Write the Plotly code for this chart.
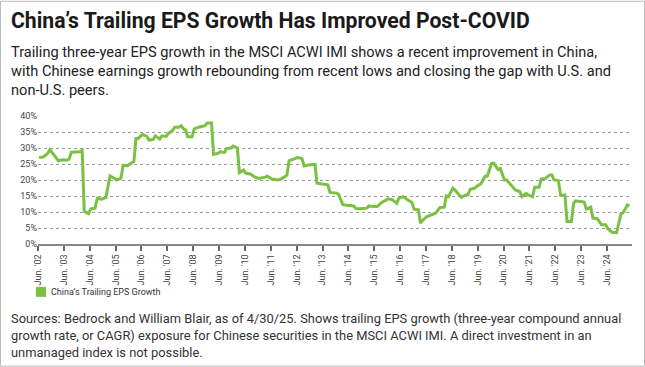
import plotly.graph_objects as go

# ---- data ----
dates = [
    "2002-06", "2002-08", "2002-10", "2002-11", "2003-01", "2003-03", "2003-05", "2003-07",
    "2003-08", "2003-09", "2004-01", "2004-02", "2004-03", "2004-05", "2004-06", "2004-08",
    "2004-09", "2004-11", "2005-01", "2005-03", "2005-05", "2005-06", "2005-08", "2005-09",
    "2005-11", "2006-01", "2006-02", "2006-03", "2006-04", "2006-06", "2006-08", "2006-09",
    "2006-11", "2006-12", "2007-02", "2007-03", "2007-05", "2007-06", "2007-08", "2007-09",
    "2007-11", "2007-12", "2008-01", "2008-02", "2008-03", "2008-05", "2008-06", "2008-08",
    "2008-10", "2008-11", "2008-12", "2009-02", "2009-03", "2009-05", "2009-06", "2009-08",
    "2009-09", "2009-11", "2009-12", "2010-02", "2010-03", "2010-05", "2010-06", "2010-08",
    "2010-10", "2010-12", "2011-03", "2011-04", "2011-06", "2011-09", "2011-11", "2012-01",
    "2012-02", "2012-04", "2012-06", "2012-08", "2012-09", "2012-11", "2013-02", "2013-03",
    "2013-05", "2013-07", "2013-08", "2013-09", "2013-12", "2014-01", "2014-03", "2014-05",
    "2014-08", "2014-09", "2014-11", "2015-02", "2015-03", "2015-05", "2015-07", "2015-09",
    "2015-10", "2015-12", "2016-02", "2016-04", "2016-05", "2016-07", "2016-09", "2016-11",
    "2016-12", "2017-02", "2017-03", "2017-04", "2017-06", "2017-08", "2017-10", "2017-12",
    "2018-02", "2018-03", "2018-04", "2018-06", "2018-07", "2018-09", "2018-10", "2018-12",
    "2019-01", "2019-02", "2019-04", "2019-06", "2019-07", "2019-09", "2019-10", "2019-12",
    "2020-01", "2020-03", "2020-04", "2020-06", "2020-07", "2020-09", "2020-11", "2021-01",
    "2021-02", "2021-04", "2021-05", "2021-07", "2021-08", "2021-10", "2021-11", "2022-01",
    "2022-03", "2022-04", "2022-05", "2022-07", "2022-08", "2022-10", "2022-11", "2023-01",
    "2023-02", "2023-03", "2023-06", "2023-07", "2023-08", "2023-10", "2023-11", "2024-01",
    "2024-03", "2024-05", "2024-06", "2024-08", "2024-10", "2024-12", "2025-01", "2025-03",
    "2025-04",
]
eps_growth = [
    27.0, 27.2, 28.3, 29.5, 27.8, 26.0, 26.3, 26.2,
    26.5, 28.7, 28.8, 29.2, 10.2, 9.5, 11.0, 11.2,
    14.3, 14.0, 14.5, 21.3, 20.5, 20.0, 20.5, 24.6,
    24.5, 25.5, 25.8, 33.0, 33.0, 34.2, 33.7, 32.5,
    32.7, 33.8, 32.8, 33.8, 33.6, 34.5, 35.5, 36.5,
    36.5, 37.0, 36.0, 35.7, 33.5, 33.5, 36.0, 36.5,
    36.8, 37.0, 37.8, 37.8, 28.0, 28.3, 28.8, 28.6,
    29.8, 30.0, 30.6, 30.0, 22.3, 23.1, 22.1, 21.9,
    21.0, 20.5, 20.9, 21.2, 20.3, 20.0, 20.6, 21.5,
    26.0, 26.6, 27.0, 26.7, 24.4, 24.7, 24.9, 19.0,
    18.8, 18.8, 18.5, 16.1, 15.9, 15.5, 12.3, 12.1,
    11.9, 11.1, 11.0, 11.2, 11.9, 11.7, 11.7, 13.0,
    13.3, 14.1, 13.8, 12.7, 14.3, 14.8, 13.8, 13.0,
    10.9, 10.7, 6.5, 7.4, 8.6, 9.1, 9.6, 11.4,
    11.5, 15.0, 14.8, 17.4, 16.9, 15.3, 14.6, 15.3,
    15.3, 17.1, 17.4, 18.4, 18.8, 21.2, 21.2, 25.2,
    25.2, 23.3, 23.6, 20.0, 20.0, 18.4, 16.9, 16.4,
    14.8, 15.8, 15.3, 14.8, 17.7, 17.7, 20.3, 20.5,
    21.6, 21.6, 20.0, 19.8, 15.3, 15.3, 7.0, 7.0,
    12.7, 13.5, 13.2, 13.1, 10.9, 11.5, 8.1, 7.9,
    6.0, 6.0, 4.7, 3.6, 3.6, 9.4, 9.8, 12.2,
    11.9,
]
tick_dates = [f"{y}-06-01" for y in range(2002, 2025)]
tick_labels = [f"Jun. '{y % 100:02d}" for y in range(2002, 2025)]
y_ticks = [0, 5, 10, 15, 20, 25, 30, 35, 40]
y_tick_labels = [f"{v}%" for v in y_ticks]
series_name = "China’s Trailing EPS Growth"

title_text = "China’s Trailing EPS Growth Has Improved Post-COVID"
subtitle_lines = [
    "Trailing three-year EPS growth in the MSCI ACWI IMI shows a recent improvement in China,",
    "with Chinese earnings growth rebounding from recent lows and closing the gap with U.S. and",
    "non-U.S. peers.",
]
source_lines = [
    "Sources: Bedrock and William Blair, as of 4/30/25. Shows trailing EPS growth (three-year compound annual",
    "growth rate, or CAGR) exposure for Chinese securities in the MSCI ACWI IMI. A direct investment in an",
    "unmanaged index is not possible.",
]

# ---- layout geometry (pixels) ----
W, H = 645, 367
L, R, T, B = 38, 632, 115.6, 244
PW, PH = R - L, B - T


def px_x(px):
    return (px - L) / PW


def px_y(py):
    return (B - py) / PH


GREEN = "#7AC143"
FONT = "Roboto"

fig = go.Figure()
fig.add_trace(go.Scatter(
    x=[d + "-15" for d in dates], y=eps_growth, mode="lines",
    line=dict(color=GREEN, width=3), showlegend=False, name=series_name,
))

annotations = []
annotations.append(dict(text=f"<b>{title_text}</b>", x=px_x(9), y=px_y(20), xref="paper", yref="paper",
                        xanchor="left", yanchor="middle", showarrow=False,
                        font=dict(family=FONT, size=21.2, color="#1a1a1a")))
for i, line in enumerate(subtitle_lines):
    annotations.append(dict(text=line, x=px_x(9), y=px_y(51 + 19.5 * i), xref="paper", yref="paper",
                            xanchor="left", yanchor="middle", showarrow=False,
                            font=dict(family=FONT, size=14.6, color="#222222")))
for i, line in enumerate(source_lines):
    annotations.append(dict(text=line, x=px_x(9), y=px_y(319 + 17 * i), xref="paper", yref="paper",
                            xanchor="left", yanchor="middle", showarrow=False,
                            font=dict(family=FONT, size=12.9, color="#333333")))
# legend label
annotations.append(dict(text=series_name, x=px_x(49), y=px_y(292), xref="paper", yref="paper",
                        xanchor="left", yanchor="middle", showarrow=False,
                        font=dict(family=FONT, size=9, color="#333333")))

shapes = [
    dict(type="rect", xref="paper", yref="paper",
         x0=px_x(0.5), x1=px_x(W - 0.5), y0=px_y(H - 0.5), y1=px_y(0.5),
         line=dict(color="#bbbbbb", width=1), fillcolor="rgba(0,0,0,0)", layer="below"),
    # legend swatch
    dict(type="rect", xref="paper", yref="paper",
         x0=px_x(36), x1=px_x(46), y0=px_y(297), y1=px_y(287),
         line=dict(width=0), fillcolor=GREEN),
]

fig.update_layout(
    width=W, height=H,
    margin=dict(l=L, r=W - R, t=T, b=H - B, pad=0, autoexpand=False),
    paper_bgcolor="white", plot_bgcolor="white",
    font=dict(family=FONT, color="#444444", size=9),
    annotations=annotations, shapes=shapes,
    showlegend=False,
)
fig.update_xaxes(
    type="date", range=["2002-06-01", "2025-05-20"], automargin=False,
    tickmode="array", tickvals=tick_dates, ticktext=tick_labels, tickangle=-90,
    ticks="outside", ticklen=5, tickwidth=1.5, tickcolor="#666666",
    showline=True, linecolor="#888888", linewidth=1.5,
    showgrid=False, zeroline=False,
    tickfont=dict(family=FONT, size=9, color="#444444"),
)
fig.update_yaxes(
    range=[0, 40], automargin=False, tickmode="array", tickvals=y_ticks, ticktext=y_tick_labels,
    showgrid=True, gridcolor="#999999", gridwidth=1, griddash="dot",
    zeroline=False, showline=False, ticks="",
    tickfont=dict(family=FONT, size=9, color="#444444"),
)

fig.write_html("out.html", config={"displayModeBar": False},
               post_script="document.body.style.margin='0';")
